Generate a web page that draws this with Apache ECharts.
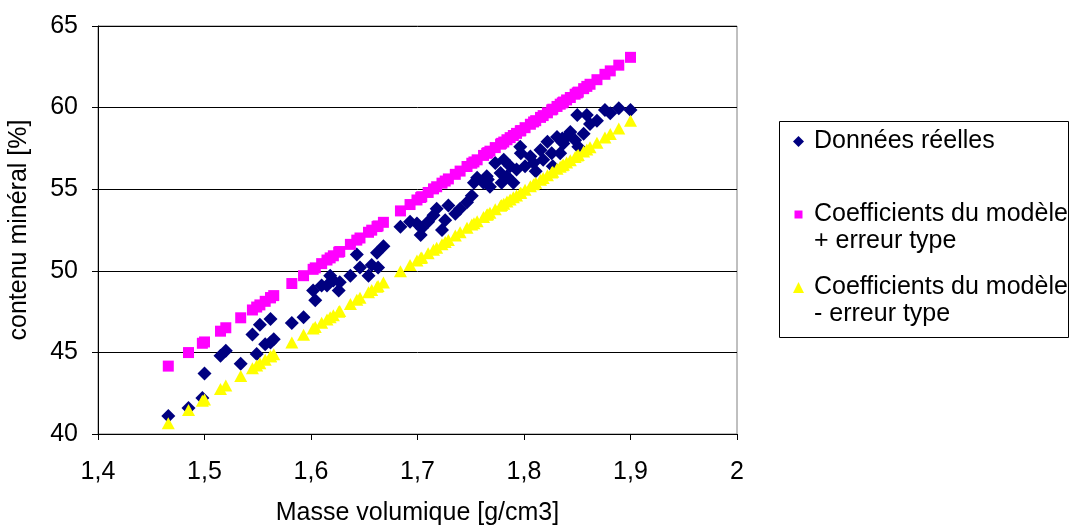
<!DOCTYPE html>
<html>
<head>
<meta charset="utf-8">
<script src="https://cdn.jsdelivr.net/npm/echarts@6/dist/echarts.min.js"></script>
<style>
html,body{margin:0;padding:0;background:#fff;}
#chart{width:1069px;height:527px;}
</style>
</head>
<body>
<div id="chart"></div>
<script>
const seriesNames = ['Données réelles', 'Coefficients du modèle + erreur type', 'Coefficients du modèle - erreur type'];
const legendLabels = ['Données réelles\n\u00a0', 'Coefficients du modèle\n+ erreur type', 'Coefficients du modèle\n- erreur type'];
const xTickLabels = ['1,4', '1,5', '1,6', '1,7', '1,8', '1,9', '2'];
const yTickLabels = ['40', '45', '50', '55', '60', '65'];

const density = [1.466,1.485,1.498,1.500,1.515,1.520,1.534,1.545,1.549,1.552,
  1.557,1.562,1.562,1.565,1.582,1.593,1.602,1.604,1.610,1.615,
  1.618,1.621,1.626,1.627,1.637,1.643,1.646,1.654,1.657,1.662,
  1.663,1.668,1.684,1.693,1.6995,1.703,1.704,1.710,1.715,1.718,
  1.723,1.726,1.729,1.7355,1.740,1.7465,1.751,1.753,1.756,1.762,
  1.765,1.766,1.768,1.773,1.778,1.779,1.781,1.784,1.787,1.790,
  1.793,1.7965,1.797,1.801,1.806,1.809,1.811,1.8155,1.818,1.822,
  1.826,1.827,1.831,1.834,1.836,1.837,1.840,1.8435,1.848,1.850,
  1.851,1.856,1.859,1.862,1.8685,1.876,1.881,1.889,1.900];

const realValues = [41.1,41.6,42.2,43.7,44.8,45.1,44.3,46.1,44.9,46.7,
  45.5,47.05,45.6,45.8,46.8,47.15,48.8,48.2,49.1,49.1,
  49.7,49.4,48.8,49.3,49.7,51.0,50.2,49.7,50.35,51.1,
  50.2,51.5,52.7,53.0,52.9,52.2,52.6,53.0,53.4,53.8,
  52.5,53.1,54.0,53.5,53.8,54.2,54.6,55.4,55.7,55.4,
  55.8,55.6,55.15,56.6,56.0,55.4,56.8,55.8,56.4,55.4,
  56.2,57.6,57.2,56.4,57.0,56.6,56.1,57.4,56.8,57.9,
  57.2,56.4,58.2,57.2,58.1,57.8,58.2,58.5,58.0,59.55,
  57.6,58.4,59.55,59.0,59.2,59.85,59.65,59.96,59.85];

const upperValues = [44.16,44.99,45.56,45.64,46.30,46.51,47.12,47.60,47.78,47.91,
  48.13,48.35,48.35,48.48,49.22,49.70,50.09,50.18,50.44,50.66,
  50.79,50.92,51.14,51.18,51.62,51.88,52.01,52.36,52.49,52.71,
  52.75,52.97,53.67,54.06,54.34,54.49,54.54,54.80,55.02,55.15,
  55.37,55.50,55.63,55.91,56.11,56.39,56.59,56.67,56.80,57.07,
  57.20,57.24,57.33,57.55,57.76,57.81,57.89,58.03,58.16,58.29,
  58.42,58.57,58.59,58.77,58.98,59.12,59.20,59.40,59.51,59.68,
  59.86,59.90,60.07,60.21,60.29,60.34,60.47,60.62,60.82,60.90,
  60.95,61.16,61.30,61.43,61.71,62.04,62.25,62.60,63.08];

const lowerValues = [40.66,41.47,42.03,42.11,42.75,42.97,43.56,44.03,44.20,44.33,
  44.55,44.76,44.76,44.89,45.61,46.08,46.47,46.55,46.81,47.02,
  47.15,47.28,47.49,47.53,47.96,48.22,48.35,48.69,48.82,49.03,
  49.07,49.29,49.97,50.35,50.63,50.78,50.82,51.08,51.29,51.42,
  51.63,51.76,51.89,52.17,52.36,52.64,52.83,52.92,53.04,53.30,
  53.43,53.47,53.56,53.77,53.98,54.03,54.11,54.24,54.37,54.50,
  54.62,54.77,54.79,54.97,55.18,55.31,55.39,55.58,55.69,55.86,
  56.03,56.07,56.25,56.37,56.46,56.50,56.63,56.78,56.97,57.06,
  57.10,57.31,57.44,57.57,57.85,58.17,58.38,58.72,59.19];

const FONT = "'Liberation Sans', Arial, sans-serif";
const FS = 25;
const pairs = (ys) => density.map((x, i) => [x, ys[i]]);

const chart = echarts.init(document.getElementById('chart'), null, {renderer: 'canvas'});
chart.setOption({
  animation: false,
  backgroundColor: '#ffffff',
  textStyle: {fontFamily: FONT},
  grid: {left: 98, top: 26, width: 639, height: 408, containLabel: false, outerBoundsMode: 'none',
    show: true, borderColor: '#808080', borderWidth: 1, backgroundColor: '#ffffff'},
  graphic: [{
    type: 'rect', left: 779, top: 121, z: 0,
    shape: {width: 289, height: 216},
    style: {fill: '#ffffff', stroke: '#000000', lineWidth: 1}
  }],
  legend: {
    orient: 'vertical', left: 793, top: 128, padding: 0,
    itemWidth: 16, itemHeight: 54, itemGap: 19,
    selectedMode: false,
    data: [
      {name: seriesNames[0], icon: 'path://M0,0 M5.5,8 L11,13.5 L5.5,19 L0,13.5 Z M16,54'},
      {name: seriesNames[1], icon: 'path://M0,0 M1.5,9.5 L9.5,9.5 L9.5,17.5 L1.5,17.5 Z M16,54'},
      {name: seriesNames[2], icon: 'path://M0,0 M5.5,8 L11,19 L0,19 Z M16,54'}
    ],
    formatter: (name) => legendLabels[seriesNames.indexOf(name)],
    textStyle: {fontFamily: FONT, fontSize: FS, color: '#000', lineHeight: 27}
  },
  xAxis: {
    type: 'value', min: 1.4, max: 2, interval: 0.1,
    name: 'Masse volumique [g/cm3]', nameLocation: 'middle', nameGap: 67,
    nameTextStyle: {fontFamily: FONT, fontSize: FS, color: '#000'},
    axisLine: {show: true, lineStyle: {color: '#000', width: 1}},
    axisTick: {show: true, inside: false, length: 6, lineStyle: {color: '#000'}},
    axisLabel: {margin: 26, fontFamily: FONT, fontSize: FS, color: '#000',
      formatter: (v) => xTickLabels[Math.round((v - 1.4) * 10)]},
    splitLine: {show: false}
  },
  yAxis: {
    type: 'value', min: 40, max: 65, interval: 5,
    name: 'contenu minéral [%]', nameLocation: 'middle', nameGap: 66, nameRotate: 90,
    nameTextStyle: {fontFamily: FONT, fontSize: FS, color: '#000'},
    axisLine: {show: true, lineStyle: {color: '#000', width: 1}},
    axisTick: {show: true, inside: false, length: 6, lineStyle: {color: '#000'}},
    axisLabel: {margin: 20, fontFamily: FONT, fontSize: FS, color: '#000',
      formatter: (v) => yTickLabels[Math.round((v - 40) / 5)]},
    splitLine: {show: true, lineStyle: {color: '#000', width: 1}}
  },
  series: [
    {name: seriesNames[0], type: 'scatter', symbol: 'diamond', symbolSize: 14,
      itemStyle: {color: '#000080', opacity: 1}, data: pairs(realValues), z: 3},
    {name: seriesNames[1], type: 'scatter', symbol: 'rect', symbolSize: 11,
      itemStyle: {color: '#ff00ff', opacity: 1}, data: pairs(upperValues), z: 4},
    {name: seriesNames[2], type: 'scatter', symbol: 'triangle', symbolSize: [13, 12],
      itemStyle: {color: '#ffff00', opacity: 1}, data: pairs(lowerValues), z: 5}
  ]
});
</script>
</body>
</html>
